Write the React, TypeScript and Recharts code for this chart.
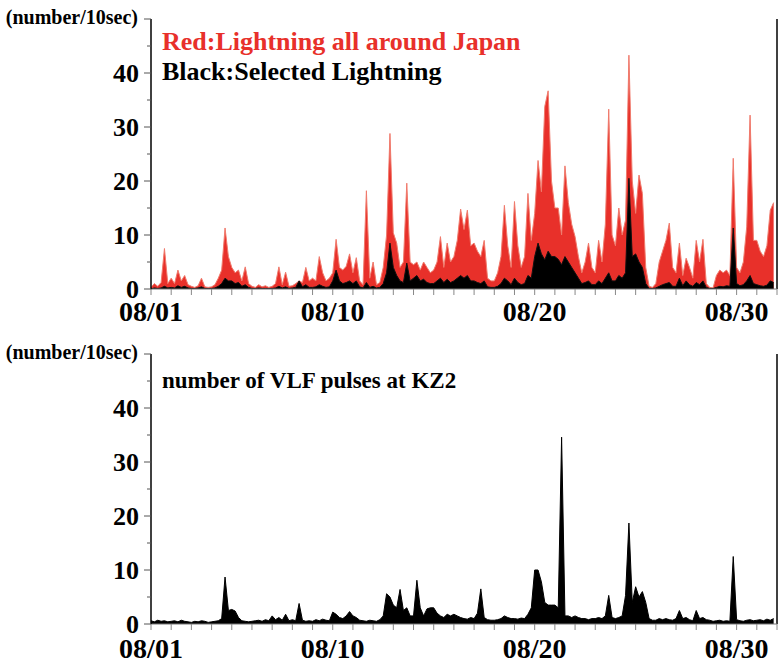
import { ComposedChart, Area, XAxis, YAxis, ReferenceLine } from "recharts";

// counts per 10 sec, sampled 6 times a day (every 4 hours), 08/01 00:00 .. 08/31 20:00
const redCounts = [
  0.3, 1, 0.5, 1.2, 7.5, 1,
  2, 1, 3.5, 1.5, 2.5, 0.8,
  0.5, 0.3, 0.6, 2, 0.4, 0.3,
  0.4, 0.8, 2, 3.5, 11.3, 6,
  4, 3, 3.5, 1.5, 4.1, 1,
  0.5, 0.3, 0.8, 0.4, 0.6, 0.3,
  0.5, 1, 4.1, 0.8, 3.1, 0.5,
  0.6, 1, 1.5, 1.2, 4, 1.5,
  2, 1.5, 6, 3, 1.5, 2,
  3, 9.2, 4, 3.5, 4.2, 6.5,
  3, 5.8, 1.5, 0.8, 18.2, 2,
  5, 0.8, 1.2, 4, 10, 28.8,
  10.4, 8.5, 4, 5, 19.6, 5,
  4.5, 5, 3.5, 5, 4, 3,
  3.5, 5, 9.7, 4, 8.5, 5,
  6, 9, 14.8, 11, 14.6, 8,
  8.5, 7, 6, 9, 2, 1.5,
  1.5, 3, 6, 15.5, 8, 4,
  16.2, 8, 4, 6, 17.7, 9,
  14, 23.8, 18, 33.8, 36.7, 20,
  15, 15, 10, 22.8, 16, 12,
  9.7, 6, 3, 5, 8.5, 4,
  3, 9, 5, 12, 33.3, 10,
  8, 15, 10, 12.8, 43.3, 20,
  14, 21.1, 17.7, 4, 0.5, 0.3,
  1, 5, 7, 9, 12.2, 4,
  3, 8.5, 2.5, 5.7, 4, 2,
  9, 5, 9.2, 1, 0.3, 0.2,
  2.5, 3.5, 3, 3.5, 2.5, 24.2,
  4, 3, 5, 11.5, 32.2, 9,
  9, 7, 6, 8, 14.6, 16
];

const blackCounts = [
  0, 0.2, 0.1, 0.2, 0.5, 0.2,
  0.3, 0.2, 0.6, 0.3, 0.5, 0.2,
  0.1, 0.1, 0.2, 0.4, 0.1, 0.1,
  0.1, 0.2, 0.5, 1, 2, 1.5,
  1.5, 1, 1.2, 0.5, 0.8, 0.3,
  0.1, 0.1, 0.2, 0.1, 0.1, 0.1,
  0.1, 0.2, 0.5, 0.2, 0.4, 0.1,
  0.2, 0.3, 1.5, 0.4, 0.8, 0.3,
  0.3, 0.4, 0.8, 0.5, 0.3, 0.4,
  1.5, 3.5, 1.5, 1, 1.2, 1.5,
  1, 1.5, 0.4, 0.2, 1.2, 0.3,
  0.5, 0.2, 0.3, 1, 3, 8.5,
  4, 2.5, 1.5, 1.2, 4.8, 1.5,
  2, 2.5, 1.5, 1.8, 1.2, 1,
  1, 1.5, 2, 1.2, 1.8, 1.2,
  1.5, 2, 2.5, 2, 2.5, 1.5,
  1.5, 1.2, 1, 1.5, 0.4, 0.3,
  0.3, 0.5, 1, 2, 1.5, 0.8,
  2, 1.2, 0.8, 1, 2.5, 2,
  6, 8.5, 6.5, 5.4, 7, 6,
  6, 5.5, 4.5, 6, 5, 4,
  3, 2, 1, 1.2, 1.5, 0.8,
  0.8, 1.5, 1, 2, 3, 1.5,
  1.5, 2.5, 2, 3, 20.5, 6,
  6.5, 5, 4, 1, 0.1, 0.1,
  0.2, 0.5, 0.8, 1, 1.2, 0.5,
  0.5, 2, 0.6, 1.5, 0.8, 0.5,
  1.2, 0.8, 1.5, 0.3, 0.1, 0.1,
  0.3, 0.5, 0.4, 0.6, 0.5, 11.3,
  1, 0.6, 0.8, 1.5, 2.5, 1,
  0.8, 0.6, 0.5, 0.7, 1.5, 1.2
];

const vlfCounts = [
  0.6, 0.4, 0.7, 0.5, 0.6, 0.4,
  0.5, 0.6, 0.4, 0.7, 0.5, 0.4,
  0.3, 0.5, 0.4, 0.6, 0.5, 0.3,
  0.4, 0.5, 0.6, 1, 8.7, 2.5,
  2.7, 2.4, 1.2, 0.6, 0.5, 0.4,
  0.5, 0.6, 0.7, 0.5, 0.8, 0.6,
  1.5, 0.8, 1.2, 0.7, 1.8, 0.6,
  0.8, 0.6, 3.8, 0.7, 0.5, 0.6,
  0.5, 0.8, 0.6, 0.9, 0.7, 0.6,
  2.2, 1.8, 1.2, 1, 1.5, 2.3,
  1.5, 1.2, 0.7, 0.6, 0.5, 0.7,
  0.6, 0.5, 0.8, 1.5, 5.6, 5,
  3.5, 3, 6.4, 2.5, 3, 1.5,
  1.5, 8.1, 3, 1.5, 2.8, 3,
  3, 2, 1.5, 1.2, 1.8, 1.5,
  1.8, 1.5, 1.2, 1, 0.9, 1.2,
  1, 2, 6.5, 1.2, 0.8, 0.7,
  0.7, 0.8, 1, 1.5, 1.2, 1,
  1, 0.9, 1.1, 1, 1.8, 3,
  10, 10, 7.8, 4, 3.5, 3.5,
  3.5, 3, 34.6, 1.5, 1.5, 1.2,
  1.5, 1.2, 1, 1, 0.8, 1,
  1, 1.2, 1, 1.5, 5.3, 1.2,
  1, 1.2, 1.5, 5.3, 18.7, 4,
  6.9, 5, 6, 4, 1, 0.7,
  0.7, 1, 0.8, 1, 0.8, 0.7,
  1, 2.5, 1, 1.2, 0.8, 0.6,
  2.5, 1, 1.2, 0.8, 0.7, 0.5,
  0.6, 0.7, 0.5, 0.6, 0.5, 12.5,
  0.8, 0.6, 0.5, 0.7, 0.8, 0.6,
  0.7, 0.8, 0.6, 0.9, 0.7, 1
];

const samplesPerDay = 6;
const dayTicks = [0, 1, 2, 3, 4, 5, 6, 7, 8, 9, 10, 11, 12, 13, 14, 15, 16, 17, 18, 19, 20, 21, 22, 23, 24, 25, 26, 27, 28, 29, 30, 31];
const dateLabels: Record<number, string> = { 0: "08/01", 9: "08/10", 19: "08/20", 29: "08/30" };
const countTicks = [0, 5, 10, 15, 20, 25, 30, 35, 40, 45, 50];
const labeledCounts = [0, 10, 20, 30, 40];

const topRows = redCounts.map((r, i) => ({ t: i / samplesPerDay, red: r, black: blackCounts[i] }));
const vlfRows = vlfCounts.map((v, i) => ({ t: i / samplesPerDay, vlf: v }));

const FONT = "'Liberation Serif', 'Times New Roman', serif";

function LeftTick({ x, y, payload }: any) {
  const v = payload.value;
  const major = v % 10 === 0;
  return (
    <g>
      <line x1={x - (major ? 7 : 4)} x2={x} y1={y} y2={y} stroke="#555" strokeWidth={1} />
      {labeledCounts.includes(v) && (
        <text x={x - 12} y={y + 9} textAnchor="end" fontSize={26} fontWeight="bold" fontFamily={FONT} fill="#000">
          {v}
        </text>
      )}
    </g>
  );
}

function BottomTick({ x, y, payload, labelDy }: any) {
  const label = dateLabels[payload.value];
  return (
    <g>
      <line x1={x} x2={x} y1={y} y2={y + 6} stroke="#888" strokeWidth={1} />
      {label && (
        <text x={x} y={y + labelDy} textAnchor="middle" fontSize={28} fontWeight="bold" fontFamily={FONT} fill="#000">
          {label}
        </text>
      )}
    </g>
  );
}

function TopTick({ x, y, payload }: any) {
  const len = payload.value % 2 === 1 ? 5 : 3;
  return <line x1={x} x2={x} y1={y} y2={y - len} stroke="#222" strokeWidth={1} />;
}

function Frame({ labelDy, children, data }: any) {
  return (
    <ComposedChart width={778} height={340} data={data} margin={{ top: 19, right: 1, bottom: 11, left: 0 }}>
      <XAxis
        dataKey="t"
        type="number"
        domain={[0, 31]}
        ticks={dayTicks}
        interval={0}
        tickSize={0}
        tickMargin={0}
        height={40}
        axisLine={{ stroke: "#777" }}
        tick={(p: any) => <BottomTick {...p} labelDy={labelDy} />}
      />
      <XAxis
        xAxisId="top"
        orientation="top"
        dataKey="t"
        type="number"
        domain={[0, 31]}
        ticks={dayTicks}
        interval={0}
        tickSize={0}
        tickMargin={0}
        height={0}
        axisLine={{ stroke: "#000", strokeWidth: 1.5 }}
        tick={(p: any) => <TopTick {...p} />}
      />
      <YAxis
        type="number"
        domain={[0, 50]}
        ticks={countTicks}
        interval={0}
        width={151}
        tickSize={0}
        tickMargin={0}
        axisLine={{ stroke: "#000", strokeWidth: 1.5 }}
        tick={(p: any) => <LeftTick {...p} />}
      />
      {children}
      <ReferenceLine x={31} stroke="#000" strokeWidth={1.5} />
    </ComposedChart>
  );
}

export default function App() {
  return (
    <div style={{ position: "absolute", left: 0, top: 0, width: 778, height: 662, background: "#fff", overflow: "hidden" }}>
      <div style={{ position: "absolute", left: 0, top: 0 }}>
        <Frame data={topRows} labelDy={32}>
          <Area
            type="linear"
            dataKey="red"
            stroke="#f07a6c"
            strokeWidth={1}
            fill="#e8302a"
            fillOpacity={1}
            dot={false}
            activeDot={false}
            isAnimationActive={false}
          />
          <Area
            type="linear"
            dataKey="black"
            stroke="#111"
            strokeWidth={1}
            fill="#000"
            fillOpacity={1}
            dot={false}
            activeDot={false}
            isAnimationActive={false}
          />
        </Frame>
      </div>
      <div style={{ position: "absolute", left: 0, top: 335 }}>
        <Frame data={vlfRows} labelDy={34}>
          <Area
            type="linear"
            dataKey="vlf"
            stroke="#000"
            strokeWidth={1}
            fill="#000"
            fillOpacity={1}
            dot={false}
            activeDot={false}
            isAnimationActive={false}
          />
        </Frame>
      </div>
      <svg width={778} height={662} style={{ position: "absolute", left: 0, top: 0, pointerEvents: "none" }}>
        <g fontFamily={FONT} fontWeight="bold">
          <text x={138} y={24} textAnchor="end" fontSize={20} fill="#000">(number/10sec)</text>
          <text x={138} y={359} textAnchor="end" fontSize={20} fill="#000">(number/10sec)</text>
          <text x={162} y={50} fontSize={26} fill="#e8302a">Red:Lightning all around Japan</text>
          <text x={162} y={80} fontSize={26} fill="#000">Black:Selected Lightning</text>
          <text x={162} y={388} fontSize={23} fill="#000">number of VLF pulses at KZ2</text>
        </g>
      </svg>
    </div>
  );
}
